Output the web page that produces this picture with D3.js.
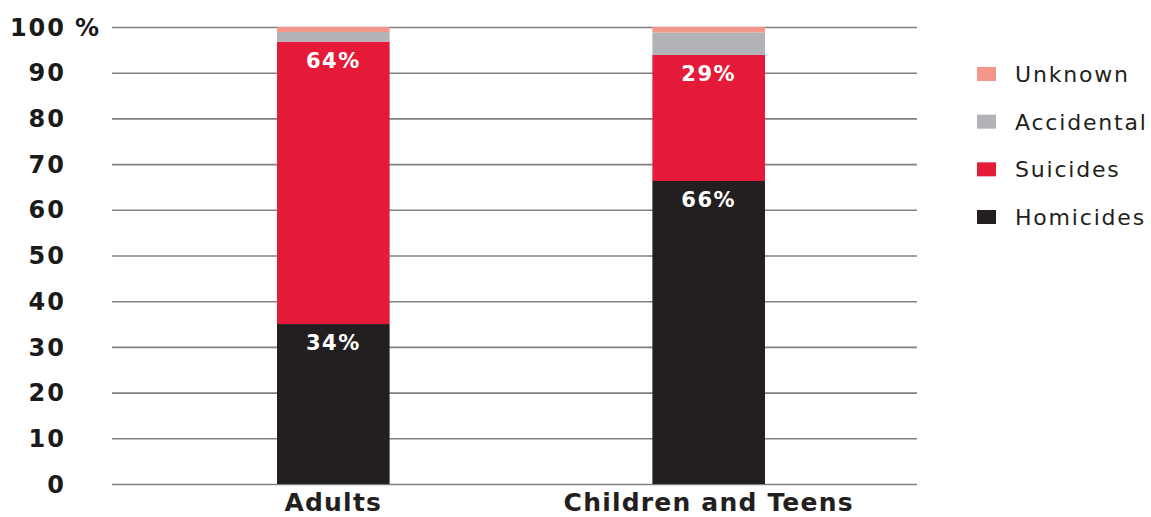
<!DOCTYPE html>
<html>
<head>
<meta charset="utf-8">
<script src="https://cdn.jsdelivr.net/npm/d3@7"></script>
<style>
  html, body { margin: 0; padding: 0; background: #ffffff; }
  svg { display: block; }
</style>
</head>
<body>
<svg id="chart" width="1151" height="517"></svg>
<script>
// ---- data ----
const categories = ["Adults", "Children and Teens"];
const seriesNames = ["Homicides", "Suicides", "Accidental", "Unknown"];
const homicides = [35, 66.3];
const suicides = [61.8, 27.6];
const accidental = [2.1, 4.9];
const unknown = [1.1, 1.2];
const homicideLabels = ["34%", "66%"];
const suicideLabels = ["64%", "29%"];
const yTicks = [0, 10, 20, 30, 40, 50, 60, 70, 80, 90, 100];
const legendOrder = ["Unknown", "Accidental", "Suicides", "Homicides"];
const colors = {
  Homicides: "#231f20",
  Suicides: "#e41a38",
  Accidental: "#b1b3b6",
  Unknown: "#f4978a"
};

// ---- build table ----
const table = categories.map((c, i) => ({
  category: c,
  Homicides: homicides[i],
  Suicides: suicides[i],
  Accidental: accidental[i],
  Unknown: unknown[i]
}));

const svg = d3.select("#chart");

const y = d3.scaleLinear().domain([0, 100]).range([484, 27]);
const x = d3.scaleBand().domain(categories).range([277, 765]).paddingInner(0.7).paddingOuter(0);

const gridLeft = 112, gridRight = 917;

// gridlines
const grid = svg.append("g")
  .attr("transform", `translate(${gridRight},0)`)
  .call(d3.axisLeft(y).tickValues(yTicks).tickSize(gridRight - gridLeft).tickFormat(""));
grid.select(".domain").remove();
grid.selectAll(".tick line").attr("stroke", "#808080").attr("stroke-width", 1.6);

// y tick labels
const tickLabels = svg.append("g");
tickLabels.selectAll("text")
  .data(yTicks)
  .join("text")
  .attr("x", 66)
  .attr("y", d => y(d))
  .attr("dy", "0.36em")
  .attr("text-anchor", "end")
  .attr("font-family", "DejaVu Sans, sans-serif")
  .attr("font-weight", "bold")
  .attr("font-size", 24)
  .attr("letter-spacing", 2)
  .attr("fill", "#1a1a1a")
  .text(d => d);
svg.append("text")
  .attr("x", 75)
  .attr("y", y(100))
  .attr("dy", "0.36em")
  .attr("font-family", "DejaVu Sans, sans-serif")
  .attr("font-weight", "bold")
  .attr("font-size", 24)
  .attr("fill", "#1a1a1a")
  .text("%");

// stacked bars
const stack = d3.stack().keys(seriesNames);
const stacked = stack(table);

svg.append("g")
  .selectAll("g")
  .data(stacked)
  .join("g")
  .attr("fill", d => colors[d.key])
  .selectAll("rect")
  .data(d => d)
  .join("rect")
  .attr("x", d => x(d.data.category))
  .attr("width", x.bandwidth())
  .attr("y", d => y(d[1]))
  .attr("height", d => y(d[0]) - y(d[1]));

// value labels
const labelData = [];
categories.forEach((c, i) => {
  labelData.push({ category: c, top: homicides[i], text: homicideLabels[i] });
  labelData.push({ category: c, top: homicides[i] + suicides[i], text: suicideLabels[i] });
});
svg.append("g")
  .selectAll("text")
  .data(labelData)
  .join("text")
  .attr("x", d => x(d.category) + x.bandwidth() / 2)
  .attr("y", d => y(d.top) + 26)
  .attr("text-anchor", "middle")
  .attr("font-family", "DejaVu Sans, sans-serif")
  .attr("font-weight", "bold")
  .attr("font-size", 21)
  .attr("letter-spacing", 1.5)
  .attr("fill", "#ffffff")
  .text(d => d.text);

// x axis labels
svg.append("g")
  .selectAll("text")
  .data(categories)
  .join("text")
  .attr("x", d => x(d) + x.bandwidth() / 2)
  .attr("y", 511)
  .attr("text-anchor", "middle")
  .attr("font-family", "DejaVu Sans, sans-serif")
  .attr("font-weight", "bold")
  .attr("font-size", 25)
  .attr("letter-spacing", 1.2)
  .attr("fill", "#231f20")
  .text(d => d);

// legend
const legend = svg.append("g");
const legendY = d3.scalePoint().domain(legendOrder).range([74, 217]);
const items = legend.selectAll("g")
  .data(legendOrder)
  .join("g")
  .attr("transform", d => `translate(977,${legendY(d)})`);
items.append("rect")
  .attr("x", 0)
  .attr("y", -7)
  .attr("width", 19)
  .attr("height", 14)
  .attr("fill", d => colors[d]);
items.append("text")
  .attr("x", 38)
  .attr("y", 0)
  .attr("dy", "0.36em")
  .attr("font-family", "DejaVu Sans, sans-serif")
  .attr("font-size", 22)
  .attr("letter-spacing", 1.8)
  .attr("fill", "#231f20")
  .text(d => d);
</script>
</body>
</html>
